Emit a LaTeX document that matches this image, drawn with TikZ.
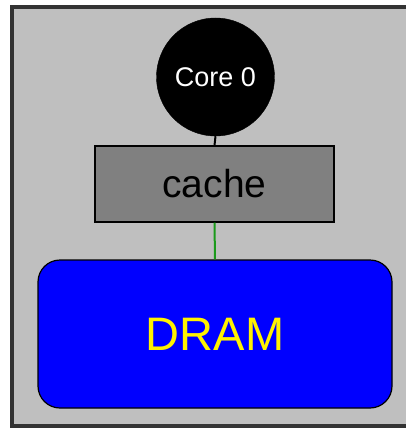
\documentclass[tikz,border=0pt]{standalone}
\usepackage{fontspec}
\setmainfont{Liberation Sans}
\definecolor{bggray}{HTML}{BFBFBF}
\definecolor{cachegray}{HTML}{808080}
\definecolor{linkgreen}{HTML}{1A9A1A}
\begin{document}
\begin{tikzpicture}[x=1pt,y=-1pt,
  corebox/.style={circle,fill=black,draw=black,minimum size=118pt,inner sep=0pt,text=white,font=\fontsize{27}{32}\selectfont},
  cachebox/.style={rectangle,fill=cachegray,draw=black,line width=1.2pt,minimum width=239pt,minimum height=76pt,inner sep=0pt,font=\fontsize{39}{46}\selectfont},
  drambox/.style={rectangle,rounded corners=22pt,fill=blue,draw=black,line width=1.2pt,minimum width=354pt,minimum height=148pt,inner sep=0pt,text=yellow,font=\fontsize{47}{56}\selectfont}]
\useasboundingbox (0,0) rectangle (405,428);
\fill[white] (0,0) rectangle (405,428);
\draw[fill=bggray,draw=black!80,line width=3.5pt] (12,7) rectangle (430,426);
\node[corebox] (core) at (215.5,77) {Core 0};
\node[cachebox] (cache) at (214.5,184) {cache};
\node[drambox] (dram) at (215,334) {DRAM};
\draw[black,line width=2pt] (core.south) -- (cache.north);
\draw[linkgreen,line width=2pt] (cache.south) -- (dram.north);
\end{tikzpicture}
\end{document}
